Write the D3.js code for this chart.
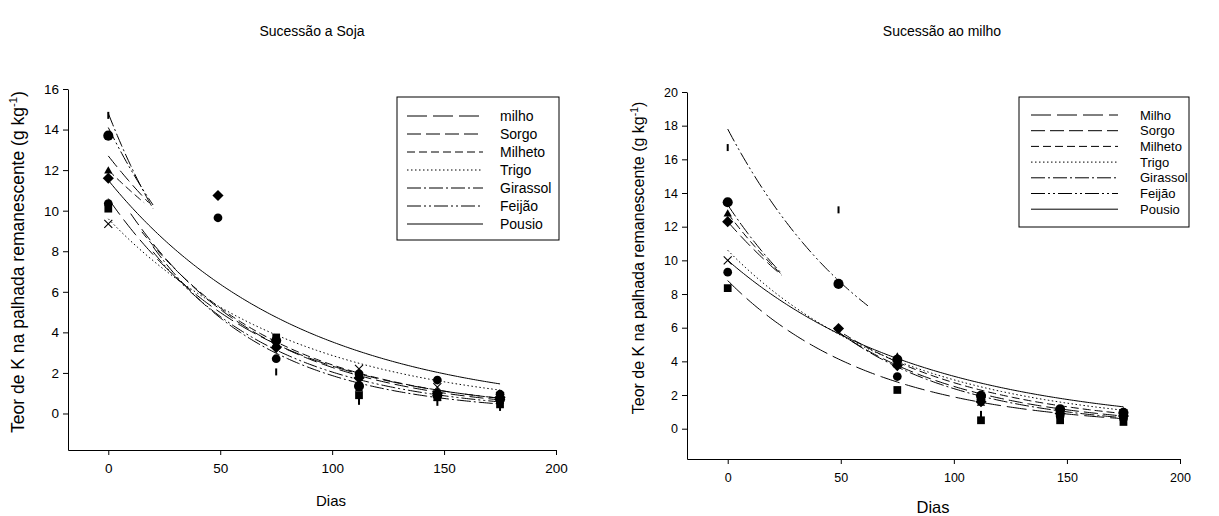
<!DOCTYPE html>
<html>
<head>
<meta charset="utf-8">
<script src="https://cdn.jsdelivr.net/npm/d3@7"></script>
<style>
  body { margin: 0; background: #fff; }
  svg { display: block; font-family: Arial, "Liberation Sans", sans-serif; }
</style>
</head>
<body>
<svg id="chart" width="1219" height="516"></svg>
<script>
// Treatments (series order used by every array below)
const seriesSoja  = ["milho", "Sorgo", "Milheto", "Trigo", "Girassol", "Feijão", "Pousio"];
const seriesMilho = ["Milho", "Sorgo", "Milheto", "Trigo", "Girassol", "Feijão", "Pousio"];

// Sampling days
const days = [0, 49, 75, 112, 147, 175];

// K content (g/kg) per treatment and day, "Sucessão a Soja"
const sojaValues = [
  [10.35, 9.65, 2.70, 1.95, 1.65, 0.95],   // milho
  [10.10, null, 3.75, 0.90, 0.80, 0.45],   // Sorgo
  [11.95, null, 3.45, 1.20, 0.75, 0.60],   // Milheto
  [9.35,  null, 3.40, 2.20, 1.30, 0.85],   // Trigo
  [11.60, 10.75, 3.25, 1.75, 1.00, 0.80],  // Girassol
  [14.70, null, 2.05, 0.60, 0.55, 0.30],   // Feijão
  [13.70, null, 3.60, 1.35, 0.90, 0.70]    // Pousio
];

// K content (g/kg) per treatment and day, "Sucessão ao milho"
const milhoValues = [
  [9.30,  null, 3.10, 1.75, 0.75, 0.60],   // Milho
  [8.35,  null, 2.30, 0.50, 0.50, 0.40],   // Sorgo
  [12.75, null, 4.25, 1.50, 1.05, 1.00],   // Milheto
  [10.00, null, 3.90, 1.80, 1.00, 0.90],   // Trigo
  [12.30, 5.95, 3.75, 1.60, 0.90, 0.75],   // Girassol
  [16.70, 13.00, 4.00, 0.85, 0.70, 0.80],  // Feijão
  [13.45, 8.60, 4.10, 1.95, 1.15, 0.95]    // Pousio
];

// Fitted decay curves K = a·exp(-b·dias), each over its own day range
const sojaCurveSeries = [4, 5, 1, 2, 0, 1, 2, 3, 4, 5, 6];
const sojaCurveA      = [14.8, 14.1, 12.7, 12.0, 10.6, 11.6, 11.3, 9.6, 11.9, 11.2, 11.5];
const sojaCurveB      = [0.0191, 0.0158, 0.0111, 0.0090, 0.0151, 0.0163, 0.0155, 0.0121, 0.0185, 0.0170, 0.0118];
const sojaCurveFrom   = [0, 0, 0, 0, 0, 10, 15, 0, 20, 20, 0];
const sojaCurveTo     = [20, 20, 18, 16, 175, 175, 175, 175, 175, 175, 175];

const milhoCurveSeries = [0, 1, 2, 4, 1, 2, 3, 4, 5, 6];
const milhoCurveA      = [8.8, 12.3, 12.8, 13.3, 12.57, 12.04, 10.6, 13.41, 17.8, 10.0];
const milhoCurveB      = [0.0154, 0.01255, 0.0140, 0.01536, 0.0161, 0.01482, 0.01295, 0.01729, 0.01438, 0.01166];
const milhoCurveFrom   = [0, 0, 0, 0, 47, 47, 0, 47, 0, 0];
const milhoCurveTo     = [175, 24, 24, 24, 175, 175, 175, 175, 62, 175];

// Axis ticks
const xTicks = [0, 50, 100, 150, 200];
const sojaYTicks  = [0, 2, 4, 6, 8, 10, 12, 14, 16];
const milhoYTicks = [0, 2, 4, 6, 8, 10, 12, 14, 16, 18, 20];

// Line style and marker per treatment
const dashes = ["20,6", "14,5", "8,4", "1.5,2.5", "14,3,2,3", "14,3,2,3,2,3", null];
const markers = ["circle", "square", "triangle", "cross", "diamond", "bar", "bigcircle"];

const svg = d3.select("#chart");

function drawMarker(g, kind, x, y) {
  if (kind === "cross") {
    g.append("path").attr("d", `M${x-4},${y-4}L${x+4},${y+4}M${x-4},${y+4}L${x+4},${y-4}`)
      .attr("stroke", "#000").attr("stroke-width", 1.1).attr("fill", "none");
  } else if (kind === "bar") {
    g.append("rect").attr("x", x - 1).attr("y", y - 3.5).attr("width", 2).attr("height", 7).attr("fill", "#000");
  } else if (kind === "diamond") {
    g.append("path").attr("d", d3.symbol(d3.symbolSquare, 62)())
      .attr("transform", `translate(${x},${y}) rotate(45)`).attr("fill", "#000");
  } else {
    const types = { circle: d3.symbolCircle, square: d3.symbolSquare, triangle: d3.symbolTriangle,
                    bigcircle: d3.symbolCircle };
    const sizes = { circle: 60, square: 60, triangle: 30, bigcircle: 80 };
    g.append("path").attr("d", d3.symbol(types[kind], sizes[kind])())
      .attr("transform", `translate(${x},${y})`).attr("fill", "#000");
  }
}

function drawPanel(cfg) {
  const x = d3.scaleLinear().domain([-18, 200]).range(cfg.xRange);
  const y = d3.scaleLinear().domain([-1.8, cfg.yMax]).range(cfg.yRange);
  const g = svg.append("g");

  // axes
  const xAxis = g.append("g").attr("transform", `translate(0,${cfg.yRange[0]})`)
    .call(d3.axisBottom(x).tickValues(xTicks).tickSize(5).tickSizeOuter(0).tickPadding(cfg.xPad));
  const yAxis = g.append("g").attr("transform", `translate(${cfg.xRange[0]},0)`)
    .call(d3.axisLeft(y).tickValues(cfg.yTicks).tickSize(5).tickSizeOuter(0).tickPadding(4));
  [xAxis, yAxis].forEach(a => {
    a.selectAll("text").attr("font-size", cfg.tickFont).attr("fill", "#000")
      .attr("font-family", "Arial, 'Liberation Sans', sans-serif");
    a.selectAll("line,path").attr("stroke", "#000");
  });

  // fitted curves
  const line = d3.line().x(d => x(d[0])).y(d => y(d[1]));
  cfg.curveSeries.forEach((s, i) => {
    const a = cfg.curveA[i], b = cfg.curveB[i];
    const pts = d3.range(cfg.curveFrom[i], cfg.curveTo[i] + 0.5, 1).map(t => [t, a * Math.exp(-b * t)]);
    g.append("path").attr("d", line(pts)).attr("fill", "none").attr("stroke", "#000")
      .attr("stroke-width", 1).attr("stroke-dasharray", dashes[s]);
  });

  // observed points
  cfg.values.forEach((vals, s) => {
    vals.forEach((v, j) => {
      if (v === null) return;
      drawMarker(g, markers[s], x(days[j]), y(v));
    });
  });

  // legend
  const L = cfg.legend;
  g.append("rect").attr("x", L.x).attr("y", L.y).attr("width", L.w).attr("height", L.h)
    .attr("fill", "#fff").attr("stroke", "#000").attr("stroke-width", 1);
  cfg.names.forEach((n, i) => {
    const yy = L.firstY + i * L.step;
    g.append("line").attr("x1", L.lx1).attr("x2", L.lx2).attr("y1", yy).attr("y2", yy)
      .attr("stroke", "#000").attr("stroke-width", 1).attr("stroke-dasharray", dashes[i]);
    g.append("text").attr("x", L.tx).attr("y", yy).attr("dy", "0.35em")
      .attr("font-size", L.font).text(n);
  });

  // titles
  g.append("text").attr("x", cfg.title.x).attr("y", cfg.title.y).attr("text-anchor", "middle")
    .attr("font-size", 14).text(cfg.title.text);
  g.append("text").attr("x", cfg.xLabel.x).attr("y", cfg.xLabel.y).attr("text-anchor", "middle")
    .attr("font-size", cfg.xLabel.font).text("Dias");
  const yl = g.append("text").attr("text-anchor", "middle").attr("font-size", cfg.yLabel.font)
    .attr("transform", `translate(${cfg.yLabel.x},${cfg.yLabel.y}) rotate(-90)`);
  yl.append("tspan").text("Teor de K na palhada remanescente (g kg");
  yl.append("tspan").attr("font-size", cfg.yLabel.font * 0.65).attr("dy", "-0.6em").text("-1");
  yl.append("tspan").attr("dy", "0.4em").text(")");
}

drawPanel({
  xRange: [68, 556], yRange: [450, 89], yMax: 16, yTicks: sojaYTicks, tickFont: 13.5, xPad: 8,
  values: sojaValues, names: seriesSoja,
  curveSeries: sojaCurveSeries, curveA: sojaCurveA, curveB: sojaCurveB,
  curveFrom: sojaCurveFrom, curveTo: sojaCurveTo,
  legend: { x: 397, y: 97, w: 162, h: 143, firstY: 116, step: 18, lx1: 407, lx2: 483, tx: 500, font: 14 },
  title: { x: 312, y: 36, text: "Sucessão a Soja" },
  xLabel: { x: 331, y: 506, font: 15 },
  yLabel: { x: 24, y: 262, font: 17.5 }
});

drawPanel({
  xRange: [687, 1180], yRange: [459, 92], yMax: 20, yTicks: milhoYTicks, tickFont: 12.5, xPad: 9,
  values: milhoValues, names: seriesMilho,
  curveSeries: milhoCurveSeries, curveA: milhoCurveA, curveB: milhoCurveB,
  curveFrom: milhoCurveFrom, curveTo: milhoCurveTo,
  legend: { x: 1019, y: 97, w: 170, h: 130, firstY: 115, step: 15.7, lx1: 1031, lx2: 1118, tx: 1140, font: 13 },
  title: { x: 942, y: 36, text: "Sucessão ao milho" },
  xLabel: { x: 933, y: 513, font: 16.5 },
  yLabel: { x: 644, y: 258, font: 16 }
});
</script>
</body>
</html>
